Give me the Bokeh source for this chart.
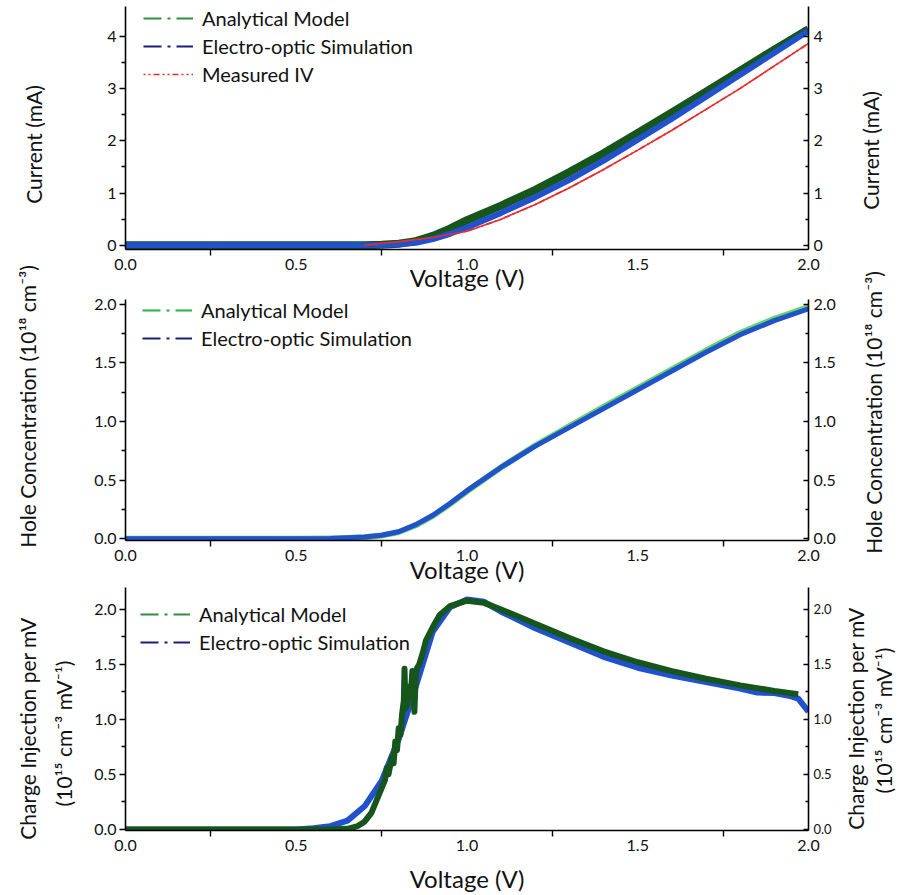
import math
from bokeh.plotting import figure
from bokeh.layouts import column, row
from bokeh.models import (Range1d, LinearAxis, Legend, LegendItem, Label,
                          FixedTicker, PrintfTickFormatter)
from bokeh.embed import file_html
from bokeh.resources import INLINE

# ---------------- data ----------------
x_ticks = [0.0, 0.5, 1.0, 1.5, 2.0]
x_minor = [0.25, 0.75, 1.25, 1.75]

# Panel 1: current vs voltage
V_iv = [0.0, 0.5, 0.7, 0.75, 0.8, 0.85, 0.9, 0.95, 1.0, 1.1, 1.2, 1.3, 1.4, 1.5,
        1.6, 1.7, 1.8, 1.9, 2.0]
I_analytical = [0.0, 0.0, 0.0, 0.01, 0.03, 0.08, 0.18, 0.32, 0.48, 0.76, 1.06, 1.40,
                1.76, 2.15, 2.54, 2.94, 3.34, 3.74, 4.13]
I_simulation = [0.0, 0.0, 0.0, 0.005, 0.02, 0.05, 0.12, 0.22, 0.34, 0.62, 0.92, 1.25,
                1.62, 2.02, 2.42, 2.84, 3.26, 3.68, 4.10]
V_meas = [0.7, 0.8, 0.9, 1.0, 1.1, 1.2, 1.3, 1.4, 1.5, 1.6, 1.7, 1.8, 1.9, 2.0]
I_measured = [0.0, 0.07, 0.15, 0.27, 0.50, 0.78, 1.10, 1.45, 1.82, 2.20, 2.60, 3.00,
              3.43, 3.86]
current_ticks = [0, 1, 2, 3, 4]
current_minor = [0.5, 1.5, 2.5, 3.5]

# Panel 2: hole concentration
V_hole = [0.0, 0.5, 0.6, 0.65, 0.7, 0.75, 0.8, 0.85, 0.9, 0.95, 1.0, 1.1, 1.2, 1.3,
          1.4, 1.5, 1.6, 1.7, 1.8, 1.9, 2.0]
hole_simulation = [0.0, 0.0, 0.003, 0.008, 0.015, 0.03, 0.06, 0.12, 0.2, 0.3, 0.41,
                   0.61, 0.79, 0.95, 1.11, 1.27, 1.43, 1.59, 1.74, 1.86, 1.96]
hole_analytical = [0.0, 0.0, 0.002, 0.006, 0.013, 0.028, 0.058, 0.115, 0.195, 0.295,
                   0.405, 0.61, 0.795, 0.96, 1.125, 1.285, 1.445, 1.605, 1.755, 1.875,
                   1.975]
hole_ticks = [0.0, 0.5, 1.0, 1.5, 2.0]
hole_minor = [0.25, 0.75, 1.25, 1.75]

# Panel 3: charge injection per mV
V_inj_sim = [0.0, 0.5, 0.55, 0.6, 0.65, 0.7, 0.75, 0.8, 0.85, 0.9, 0.95, 1.0, 1.05,
             1.1, 1.2, 1.3, 1.4, 1.5, 1.6, 1.7, 1.8, 1.85, 1.9, 1.95, 1.97, 2.0]
inj_simulation = [0.0, 0.0, 0.01, 0.03, 0.08, 0.21, 0.44, 0.82, 1.30, 1.80, 2.02,
                  2.09, 2.07, 1.98, 1.83, 1.70, 1.57, 1.47, 1.40, 1.34, 1.28, 1.245,
                  1.24, 1.21, 1.19, 1.07]
V_inj_ana = [0.0, 0.6, 0.65, 0.68, 0.7, 0.72, 0.74, 0.76, 0.765, 0.77, 0.78, 0.785,
             0.79, 0.795, 0.80, 0.805, 0.81, 0.815, 0.817, 0.82, 0.825, 0.83, 0.835,
             0.84, 0.843, 0.846, 0.85, 0.854, 0.86, 0.87, 0.88, 0.9, 0.92, 0.95, 1.0,
             1.05, 1.1, 1.2, 1.3, 1.4, 1.5, 1.6, 1.7, 1.8, 1.9, 1.97]
inj_analytical = [0.0, 0.0, 0.005, 0.03, 0.07, 0.15, 0.30, 0.45, 0.56, 0.50, 0.66,
                  0.60, 0.80, 0.72, 0.92, 0.86, 1.05, 1.17, 1.46, 1.10, 1.14, 1.30,
                  1.20, 1.44, 1.25, 1.07, 1.40, 1.47, 1.50, 1.60, 1.72, 1.84, 1.95,
                  2.03, 2.08, 2.06, 2.0, 1.87, 1.74, 1.62, 1.52, 1.44, 1.37, 1.31,
                  1.26, 1.23]
inj_ticks = [0.0, 0.5, 1.0, 1.5, 2.0]
inj_minor = [0.25, 0.75, 1.25, 1.75]

# axis titles
current_title = "Current (mA)"
hole_title = "Hole Concentration (10\u00b9\u2078 cm\u207b\u00b3)"
inj_title_1 = "Charge Injection per mV"
inj_title_2 = "(10\u00b9\u2075 cm\u207b\u00b3 mV\u207b\u00b9)"
volt_title = "Voltage (V)"

# ---------------- styling ----------------
FONT = "Lato"
GREEN_DARK = "#16561c"
GREEN_LIGHT = "#66d36a"
BLUE = "#2152cc"
NAVY = "#1d1d7a"
RED = "#ec2a2a"
LEG_GREEN = "#2f8f3c"
LEG_GREEN2 = "#24b04a"
DASHDOT = "18 6 3 6"
DOTTED = "2 3 2 3 6 3"

TOTAL_H = 895
LEFT_W, MID_W, RIGHT_W = 80, 760, 61


def make_panel(height, b_top, b_bottom, y_lo, y_hi, yt, ytm, yfmt, right_size):
    p = figure(width=MID_W, height=height, x_range=Range1d(0.0, 2.0),
               y_range=Range1d(y_lo, y_hi), output_backend="svg",
               toolbar_location=None, min_border_left=45, min_border_right=32,
               min_border_top=b_top, min_border_bottom=b_bottom)
    p.outline_line_color = None
    p.xgrid.visible = False
    p.ygrid.visible = False
    p.background_fill_color = None
    p.border_fill_color = None

    xa = p.xaxis[0]
    xa.ticker = FixedTicker(ticks=x_ticks, minor_ticks=x_minor)
    xa.formatter = PrintfTickFormatter(format="%.1f")
    xa.major_tick_in = 0
    xa.major_tick_out = 0
    xa.minor_tick_in = 0
    xa.minor_tick_out = 6
    xa.major_label_standoff = 3
    xa.axis_label = volt_title
    xa.axis_label_text_font_size = "24px"

    ya = p.yaxis[0]
    ya.ticker = FixedTicker(ticks=yt, minor_ticks=ytm)
    ya.formatter = PrintfTickFormatter(format=yfmt)
    ya.major_tick_in = 0
    ya.major_tick_out = 6
    ya.minor_tick_in = 0
    ya.minor_tick_out = 4
    ya.major_label_standoff = 3

    ra = LinearAxis(ticker=FixedTicker(ticks=yt, minor_ticks=ytm),
                    formatter=PrintfTickFormatter(format=yfmt))
    ra.major_tick_in = 5
    ra.major_tick_out = 0
    ra.minor_tick_in = 3
    ra.minor_tick_out = 0
    ra.major_label_standoff = 5
    p.add_layout(ra, "right")

    for ax in (xa, ya, ra):
        ax.axis_line_color = "black"
        ax.axis_line_width = 1.6
        ax.major_tick_line_width = 1.6
        ax.minor_tick_line_width = 1.4
        ax.major_tick_line_color = "black"
        ax.minor_tick_line_color = "black"
        ax.major_label_text_font = FONT
        ax.major_label_text_font_size = "16px"
        ax.major_label_text_color = "#111111"
        ax.axis_label_text_font = FONT
        ax.axis_label_text_font_style = "normal"
        ax.axis_label_text_color = "#111111"
    ra.major_label_text_font_size = right_size
    return p, xa


def add_legend(p, items, loc):
    leg = Legend(items=items, location=loc, padding=0, margin=0, spacing=4,
                 glyph_width=50, glyph_height=24, label_height=24,
                 label_standoff=9, border_line_color=None,
                 background_fill_alpha=0, label_text_font=FONT,
                 label_text_font_size="20px", label_text_color="#111111")
    p.add_layout(leg)


def side_figure(width, x0, x1):
    f = figure(width=width, height=TOTAL_H, x_range=Range1d(x0, x1),
               y_range=Range1d(TOTAL_H, 0), output_backend="svg",
               toolbar_location=None, x_axis_location=None, y_axis_location=None,
               min_border=0)
    f.outline_line_color = None
    f.xgrid.visible = False
    f.ygrid.visible = False
    f.background_fill_color = None
    f.border_fill_color = None
    return f


def add_title(f, x, y, text, size="21px"):
    f.add_layout(Label(x=x, y=y, text=text, angle=math.pi / 2,
                       text_align="center", text_baseline="middle",
                       text_font=FONT, text_font_size=size,
                       text_color="#111111"))


# ---------------- panel 1 ----------------
p1, xa1 = make_panel(294, 6, 42, -0.08, 4.566, current_ticks, current_minor, "%d", "16px")
la1 = p1.line(V_iv, I_analytical, line_color=LEG_GREEN, line_width=2, line_dash=DASHDOT)
ls1 = p1.line(V_iv, I_simulation, line_color=NAVY, line_width=2, line_dash=DASHDOT)
lm1 = p1.line(V_meas, I_measured, line_color=RED, line_width=1.6, line_dash=DOTTED)
p1.line(V_iv, I_analytical, line_color=GREEN_DARK, line_width=8, line_join="round")
p1.line(V_iv, I_simulation, line_color=BLUE, line_width=6, line_join="round")
p1.line(V_meas, I_measured, line_color=RED, line_width=1.6)
add_legend(p1, [LegendItem(label="Analytical Model", renderers=[la1]),
                LegendItem(label="Electro-optic Simulation", renderers=[ls1]),
                LegendItem(label="Measured IV", renderers=[lm1])], (18, 163))
xa1.axis_label_standoff = -10

# ---------------- panel 2 ----------------
p2, xa2 = make_panel(292, 5, 43, -0.015, 2.04, hole_ticks, hole_minor, "%.1f", "16px")
la2 = p2.line(V_hole, hole_analytical, line_color=LEG_GREEN2, line_width=2, line_dash=DASHDOT)
ls2 = p2.line(V_hole, hole_simulation, line_color=NAVY, line_width=2, line_dash=DASHDOT)
p2.line(V_hole, hole_analytical, line_color=GREEN_LIGHT, line_width=6, line_join="round")
p2.line(V_hole, hole_simulation, line_color=BLUE, line_width=5, line_join="round")
add_legend(p2, [LegendItem(label="Analytical Model", renderers=[la2]),
                LegendItem(label="Electro-optic Simulation", renderers=[ls2])], (17, 190))
xa2.axis_label_standoff = -9

# ---------------- panel 3 ----------------
p3, xa3 = make_panel(309, 1, 64, -0.01, 2.2, inj_ticks, inj_minor, "%.1f", "13px")
ls3 = p3.line(V_inj_sim, inj_simulation, line_color=NAVY, line_width=2, line_dash=DASHDOT)
la3 = p3.line(V_inj_ana, inj_analytical, line_color=LEG_GREEN, line_width=2, line_dash=DASHDOT)
p3.line(V_inj_sim, inj_simulation, line_color=BLUE, line_width=6, line_join="round")
p3.line(V_inj_ana, inj_analytical, line_color=GREEN_DARK, line_width=6, line_join="round")
add_legend(p3, [LegendItem(label="Analytical Model", renderers=[la3]),
                LegendItem(label="Electro-optic Simulation", renderers=[ls3])], (15, 176))
xa3.axis_label_standoff = 10

# ---------------- side titles (page-pixel coordinates) ----------------
left = side_figure(LEFT_W, 0, LEFT_W)
add_title(left, 33, 144, current_title)
add_title(left, 27, 406, hole_title)
add_title(left, 27, 728, inj_title_1)
add_title(left, 63, 733, inj_title_2)

x_off = LEFT_W + MID_W
right = side_figure(RIGHT_W, x_off, x_off + RIGHT_W)
add_title(right, 870, 150, current_title)
add_title(right, 873, 412, hole_title)
add_title(right, 855, 718, inj_title_1)
add_title(right, 883, 720, inj_title_2)

layout = row(left, column(p1, p2, p3, spacing=0), right, spacing=0)
open("out.html", "w").write(file_html(layout, INLINE))
